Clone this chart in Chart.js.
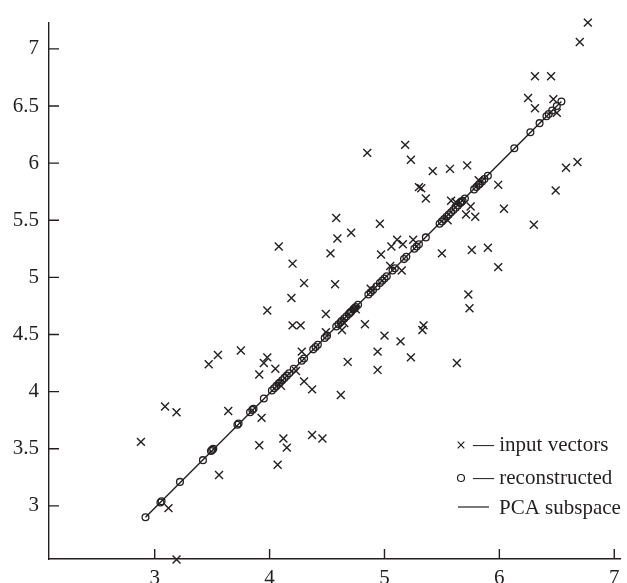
<!DOCTYPE html>
<html>
<head>
<meta charset="utf-8">
<script src="https://cdn.jsdelivr.net/npm/chart.js@4/dist/chart.umd.min.js"></script>
<style>
  html, body { margin: 0; padding: 0; background: #ffffff; }
  #wrap { position: relative; width: 627px; height: 583px; }
</style>
</head>
<body>
<div id="wrap"><canvas id="c" width="627" height="583"></canvas></div>
<script>
// ---- data ----
const xTicks = [3, 4, 5, 6, 7];
const xTickLabels = ['3', '4', '5', '6', '7'];
const yTicks = [3, 3.5, 4, 4.5, 5, 5.5, 6, 6.5, 7];
const yTickLabels = ['3', '3.5', '4', '4.5', '5', '5.5', '6', '6.5', '7'];

const inputX = [2.88, 3.09, 3.19, 3.12, 3.19, 3.56, 3.64, 3.93, 3.91, 4.12, 4.15, 4.07, 4.37, 4.46, 4.30, 4.37, 4.62,
  4.58, 4.96, 4.71, 4.59, 4.08, 4.53, 4.97, 5.06, 5.11, 5.16, 5.25, 5.15, 4.20, 4.30, 4.57, 4.19, 3.98, 4.49, 4.20,
  4.27, 4.63, 4.83, 5.00, 5.14, 5.23, 4.94, 4.94, 4.68, 3.75, 3.55, 3.47, 3.98, 3.95, 4.05, 3.91, 4.23,
  6.77, 6.70, 6.31, 6.45, 6.25, 6.31, 6.47, 6.50, 5.18, 5.23, 5.42, 5.57, 5.72, 6.58, 6.68, 5.99, 6.49, 5.30, 5.32,
  5.36, 5.58, 5.75, 5.71, 5.79, 6.04, 6.30, 5.50, 5.76, 5.90, 5.99, 5.73, 5.74, 5.34, 5.33, 5.63, 4.85,
  4.28, 4.49, 4.75, 4.88, 5.05, 5.55, 5.62, 5.82, 4.10, 4.65];
const inputY = [3.56, 3.87, 3.82, 2.98, 2.53, 3.27, 3.83, 3.77, 3.53, 3.59, 3.51, 3.36, 3.62, 3.59, 4.09, 4.02, 3.97,
  5.52, 5.47, 5.39, 5.34, 5.27, 5.21, 5.20, 5.27, 5.33, 5.29, 5.33, 5.06, 5.12, 4.95, 4.94, 4.82, 4.71, 4.68, 4.58,
  4.58, 4.54, 4.59, 4.49, 4.44, 4.30, 4.35, 4.19, 4.26, 4.36, 4.32, 4.24, 4.30, 4.25, 4.20, 4.15, 4.18,
  7.23, 7.06, 6.76, 6.76, 6.57, 6.48, 6.56, 6.44, 6.16, 6.03, 5.93, 5.95, 5.98, 5.96, 6.01, 5.81, 5.76, 5.79, 5.78,
  5.69, 5.67, 5.62, 5.55, 5.53, 5.60, 5.46, 5.21, 5.24, 5.26, 5.09, 4.85, 4.73, 4.58, 4.54, 4.25, 6.09,
  4.35, 4.52, 4.72, 4.90, 5.10, 5.50, 5.66, 5.85, 4.05, 4.60];

const reconX = [2.92, 3.05, 3.06, 3.22, 3.42, 3.49, 3.50, 3.51, 3.72, 3.73, 3.83, 3.85, 3.95, 4.02, 4.04, 4.06, 4.08,
  4.11, 4.13, 4.15, 4.21, 4.28, 4.30, 4.38, 4.40, 4.42, 4.48, 4.50, 4.58, 4.60, 4.62, 4.65, 4.67, 4.69, 4.71, 4.73,
  4.75, 4.77, 4.86, 4.88, 4.93, 4.96, 4.98, 5.00, 5.07, 5.09, 5.17, 5.19, 5.26, 5.28, 5.30, 5.36, 5.48, 5.50, 5.54,
  5.56, 5.58, 5.62, 5.64, 5.66, 5.68, 5.70, 5.78, 5.80, 5.83, 5.85, 5.87, 5.90, 6.13, 6.27, 6.35, 6.41, 6.43, 6.46,
  6.50, 6.54, 4.09, 4.17, 4.63, 4.70, 4.74, 4.90, 5.02, 5.52, 5.60, 5.67, 5.82, 3.86];
const reconY = [2.90, 3.03, 3.04, 3.21, 3.40, 3.48, 3.49, 3.50, 3.71, 3.72, 3.82, 3.84, 3.94, 4.01, 4.03, 4.05, 4.07,
  4.10, 4.12, 4.14, 4.20, 4.27, 4.29, 4.37, 4.39, 4.41, 4.47, 4.49, 4.57, 4.59, 4.61, 4.64, 4.66, 4.68, 4.70, 4.72,
  4.74, 4.76, 4.85, 4.87, 4.92, 4.95, 4.97, 4.99, 5.06, 5.08, 5.16, 5.18, 5.25, 5.27, 5.29, 5.35, 5.47, 5.49, 5.53,
  5.55, 5.57, 5.61, 5.63, 5.65, 5.67, 5.69, 5.77, 5.79, 5.82, 5.84, 5.86, 5.89, 6.13, 6.27, 6.35, 6.41, 6.43, 6.46,
  6.50, 6.54, 4.08, 4.16, 4.62, 4.69, 4.73, 4.89, 5.01, 5.51, 5.59, 5.66, 5.81, 3.85];

const subspaceX = [2.92, 6.54];
const subspaceY = [2.90, 6.54];

const legendLabels = ['— input vectors', '— reconstructed', 'PCA subspace'];

// ---- chart ----
const INK = '#231f20';
const FONT = "'Liberation Serif', 'DejaVu Serif', 'Times New Roman', serif";
const pairs = (xs, ys) => xs.map((x, i) => ({ x: x, y: ys[i] }));

const inwardTicks = {
  id: 'inwardTicks',
  afterDraw(chart) {
    const ctx = chart.ctx, a = chart.chartArea;
    const xs = chart.scales.x, ys = chart.scales.y;
    ctx.save();
    ctx.strokeStyle = INK;
    ctx.lineWidth = 1.4;
    ctx.beginPath();
    xTicks.forEach(v => { const p = xs.getPixelForValue(v); ctx.moveTo(p, a.bottom); ctx.lineTo(p, a.bottom - 10); });
    yTicks.forEach(v => { const p = ys.getPixelForValue(v); ctx.moveTo(a.left, p); ctx.lineTo(a.left + 10, p); });
    ctx.stroke();
    ctx.restore();
  }
};

const legendPlugin = {
  id: 'innerLegend',
  afterDraw(chart) {
    const ctx = chart.ctx;
    ctx.save();
    ctx.strokeStyle = INK;
    ctx.fillStyle = INK;
    ctx.lineWidth = 1.2;
    const sx = 461, rows = [445, 478, 507];
    ctx.beginPath();
    ctx.moveTo(sx - 3.3, rows[0] - 3.3); ctx.lineTo(sx + 3.3, rows[0] + 3.3);
    ctx.moveTo(sx + 3.3, rows[0] - 3.3); ctx.lineTo(sx - 3.3, rows[0] + 3.3);
    ctx.stroke();
    ctx.beginPath();
    ctx.arc(sx, rows[1], 3.5, 0, Math.PI * 2);
    ctx.stroke();
    ctx.beginPath();
    ctx.moveTo(458, rows[2]); ctx.lineTo(489, rows[2]);
    ctx.stroke();
    ctx.font = '21px ' + FONT;
    ctx.textBaseline = 'middle';
    ctx.textAlign = 'left';
    ctx.fillText(legendLabels[0], 473, rows[0]);
    ctx.fillText(legendLabels[1], 473, rows[1]);
    ctx.fillText(legendLabels[2], 499, rows[2] + 1);
    ctx.restore();
  }
};

new Chart(document.getElementById('c'), {
  type: 'scatter',
  data: {
    datasets: [
      {
        label: 'PCA subspace',
        data: pairs(subspaceX, subspaceY),
        showLine: true,
        borderColor: INK,
        borderWidth: 1.4,
        pointRadius: 0,
        fill: false,
        clip: false,
        order: 3
      },
      {
        label: 'reconstructed',
        data: pairs(reconX, reconY),
        pointStyle: 'circle',
        pointRadius: 3.4,
        pointBorderWidth: 1.3,
        borderColor: INK,
        backgroundColor: 'rgba(0,0,0,0)',
        clip: false,
        order: 2
      },
      {
        label: 'input vectors',
        data: pairs(inputX, inputY),
        pointStyle: 'crossRot',
        pointRadius: 5.6,
        pointBorderWidth: 1.4,
        borderColor: INK,
        backgroundColor: INK,
        clip: false,
        order: 1
      }
    ]
  },
  options: {
    responsive: false,
    animation: false,
    events: [],
    layout: { padding: { top: 17, right: 4, left: 0, bottom: 0 } },
    plugins: { legend: { display: false }, tooltip: { enabled: false } },
    scales: {
      x: {
        type: 'linear',
        min: 2.08,
        max: 7.05,
        grid: { display: true, drawOnChartArea: false, drawTicks: false },
        border: { display: true, color: INK, width: 1.4 },
        ticks: {
          color: INK,
          font: { family: FONT, size: 21 },
          padding: 7,
          maxRotation: 0,
          autoSkip: false,
          callback: (v) => { const i = xTicks.indexOf(v); return i >= 0 ? xTickLabels[i] : ''; }
        },
        afterBuildTicks: (s) => { s.ticks = xTicks.map(v => ({ value: v })); },
        afterFit: (s) => { s.height = 24; }
      },
      y: {
        type: 'linear',
        min: 2.535,
        max: 7.23,
        grid: { display: true, drawOnChartArea: false, drawTicks: false },
        border: { display: true, color: INK, width: 1.4 },
        ticks: {
          color: INK,
          font: { family: FONT, size: 21 },
          padding: 10,
          autoSkip: false,
          callback: (v) => { const i = yTicks.indexOf(v); return i >= 0 ? yTickLabels[i] : ''; }
        },
        afterBuildTicks: (s) => { s.ticks = yTicks.map(v => ({ value: v })); },
        afterFit: (s) => { s.width = 49; }
      }
    }
  },
  plugins: [inwardTicks, legendPlugin]
});
</script>
</body>
</html>
